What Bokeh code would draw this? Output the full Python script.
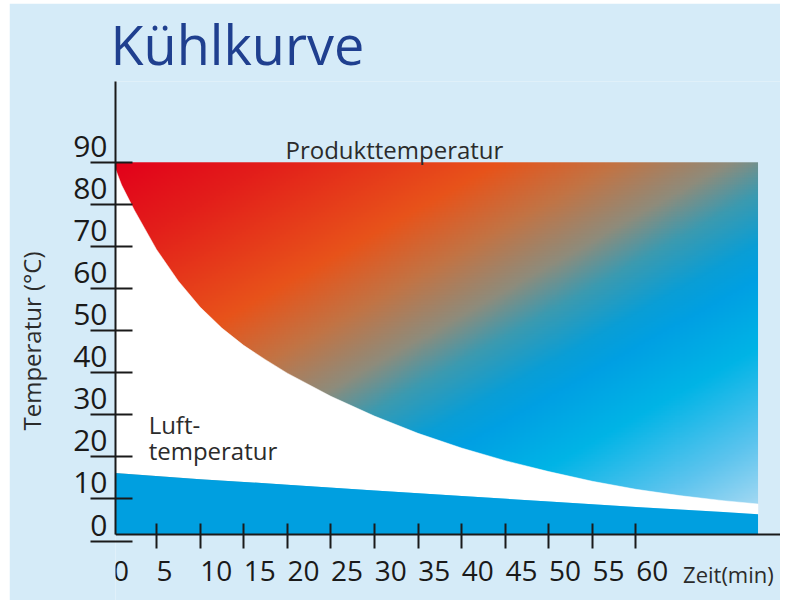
import numpy as np
from bokeh.plotting import figure
from bokeh.models import FixedTicker, Range1d
from bokeh.core.properties import value
from bokeh.embed import file_html
from bokeh.resources import INLINE

# ---------------- data ----------------
title_text = "Kühlkurve"
y_axis_text = "Temperatur (°C)"
x_unit_text = "Zeit(min)"
product_text = "Produkttemperatur"
air_text = ["Luft-", "temperatur"]

x_ticks = [0, 5, 10, 15, 20, 25, 30, 35, 40, 45, 50, 55, 60]
y_ticks = [0, 10, 20, 30, 40, 50, 60, 70, 80, 90]

# product temperature (upper boundary of white gap)
prod_time = [0, 1, 2.5, 5, 7.5, 10, 12.5, 15, 17.5, 20, 25, 30, 35, 40, 45, 50, 55, 60, 65, 70, 74]
prod_temp = [90, 84.6, 78.5, 69.3, 61.8, 55.6, 50.6, 46.5, 43.1, 39.9, 34.4, 29.7, 25.6,
             22.1, 19.1, 16.5, 14.2, 12.3, 10.8, 9.6, 8.8]

# air temperature (top of blue band)
air_time = [0, 10, 20, 30, 40, 50, 60, 70, 74]
air_temp = [16.2, 14.7, 13.4, 12.0, 10.7, 9.4, 8.1, 6.9, 6.4]

# ---------------- styling ----------------
FONT = "Open Sans"
BG = "#d5ebf8"
INK = "#1a1a1a"
TXT = "#2b2b2b"
BLUE = "#009fe0"

PX_X = 8.6      # px per minute
PX_Y = 4.225    # px per degree
X0, X1 = 0.3, 0.3 + 656 / PX_X
BASE = 1.5                      # value where the time axis sits
Y1 = BASE + 455 / PX_Y
Y0 = BASE - 66 / PX_Y

# width/height include the margin (canvas is 762 x 594)
p = figure(width=771, height=597, output_backend="svg", toolbar_location=None,
           x_range=Range1d(X0, X1), y_range=Range1d(Y0, Y1),
           min_border_left=106, min_border_right=0, min_border_top=73,
           min_border_bottom=0, margin=(3, 0, 0, 9))
p.background_fill_color = BG
p.border_fill_color = BG
p.outline_line_color = None
p.grid.visible = False

# title
p.title.text = title_text
p.title.text_font = FONT
p.title.text_font_size = "54px"
p.title.text_font_style = "normal"
p.title.text_color = "#1f3f8f"
p.title.align = "left"
p.title.offset = -5
p.title.standoff = 2

# gradient image (diagonal red -> orange -> grey -> blue -> light blue)
t_end = prod_time[-1]
t_top = prod_temp[0]
nx, ny = 320, 220
tt = np.linspace(0, t_end, nx)
TT = np.linspace(BASE, t_top, ny)
gx, gy = np.meshgrid(tt, TT)
px = gx * PX_X
py = (t_top - gy) * PX_Y
s = 0.5 * px + 0.866 * py
stops = [0, 80, 190, 250, 305, 345, 390, 420, 480, 560, 621]
cols = ["#e2001a", "#e31f1a", "#e8531a", "#c27445", "#8e8c7c", "#3c9ab0",
        "#0a9ed6", "#00a0e3", "#00b4e6", "#5cc4ee", "#a8daf3"]
rgb = np.array([[int(c[i:i + 2], 16) for i in (1, 3, 5)] for c in cols], dtype=float)
img = np.empty((ny, nx), dtype=np.uint32)
view = img.view(dtype=np.uint8).reshape((ny, nx, 4))
for k in range(3):
    view[:, :, k] = np.interp(s, stops, rgb[:, k]).astype(np.uint8)
view[:, :, 3] = 255
p.image_rgba(image=[img], x=0, y=BASE, dw=t_end, dh=t_top - BASE)

# white gap between product and air curve
p.patch(x=prod_time + air_time[::-1], y=prod_temp + air_temp[::-1],
        fill_color="white", line_color="white", line_width=0.5)

# blue air band
p.varea(x=air_time, y1=[BASE] * len(air_time), y2=air_temp, fill_color=BLUE)

# in-plot texts
p.text(x=[19.8], y=[93.1], text=[product_text], text_font=value(FONT),
       text_font_size="24px", text_color=TXT, text_baseline="alphabetic")
p.text(x=[4.1, 4.1], y=[27.75, 21.4], text=air_text, text_font=value(FONT),
       text_font_size="24px", text_color=TXT, text_baseline="alphabetic")
p.text(x=[65.4], y=[BASE - 9.25], text=[x_unit_text], text_font=value(FONT),
       text_font_size="22px", text_color=TXT, text_baseline="alphabetic")

# x axis (sits at BASE inside the frame)
xl_pos = [round(v + len(str(v)) * 0.93, 3) for v in x_ticks]
xa = p.xaxis[0]
xa.fixed_location = BASE
xa.ticker = FixedTicker(ticks=xl_pos, minor_ticks=x_ticks)
xa.major_label_overrides = {pos: str(v) for pos, v in zip(xl_pos, x_ticks)}
xa.major_tick_in = 0
xa.major_tick_out = 0
xa.major_tick_line_color = None
xa.minor_tick_in = 11
xa.minor_tick_out = 14
xa.minor_tick_line_width = 2
xa.minor_tick_line_color = INK
xa.axis_line_width = 2
xa.axis_line_color = INK
xa.major_label_text_font = FONT
xa.major_label_text_font_size = "28px"
xa.major_label_text_color = INK
xa.major_label_standoff = 12

# y axis
yl_pos = [round(v + 3.8, 3) for v in y_ticks]
ya = p.yaxis[0]
ya.bounds = (BASE, Y1)
ya.ticker = FixedTicker(ticks=yl_pos, minor_ticks=y_ticks)
ya.major_label_overrides = {pos: str(v) for pos, v in zip(yl_pos, y_ticks)}
ya.major_tick_in = 0
ya.major_tick_out = 0
ya.major_tick_line_color = None
ya.minor_tick_in = 17
ya.minor_tick_out = 25
ya.minor_tick_line_width = 2
ya.minor_tick_line_color = INK
ya.axis_line_width = 2
ya.axis_line_color = INK
ya.major_label_text_font = FONT
ya.major_label_text_font_size = "30px"
ya.major_label_text_color = INK
ya.major_label_standoff = -17
ya.axis_label = y_axis_text
ya.axis_label_text_font = FONT
ya.axis_label_text_font_size = "24px"
ya.axis_label_text_font_style = "normal"
ya.axis_label_text_color = TXT
ya.axis_label_standoff = 22

open("out.html", "w").write(file_html(p, INLINE))
